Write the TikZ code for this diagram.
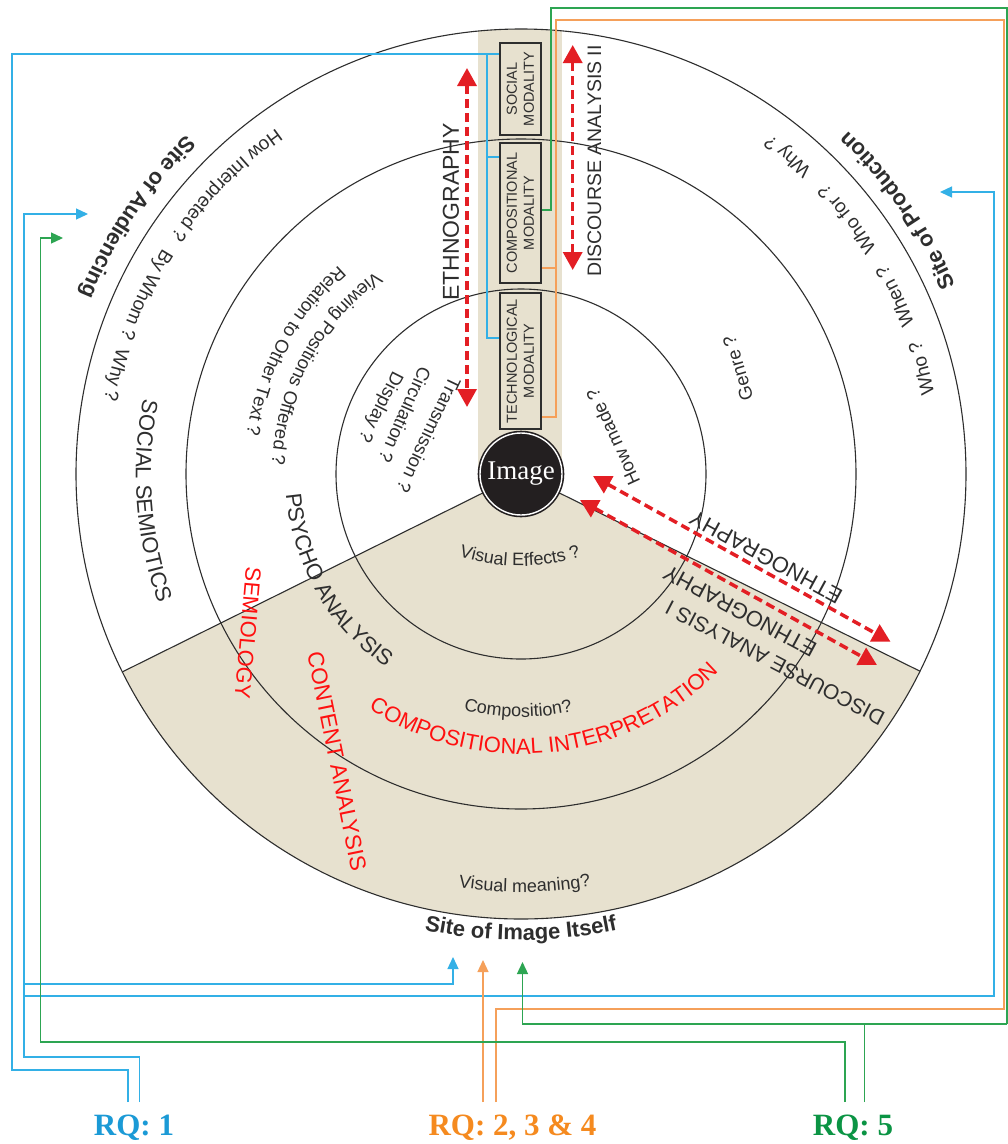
\documentclass[tikz,border=0pt]{standalone}
\usepackage{fontspec}
\setmainfont{Liberation Sans}
\newfontfamily\rqfont{Liberation Serif}
\usetikzlibrary{arrows.meta,calc,decorations.text}
\definecolor{beige}{HTML}{E7E1CF}
\definecolor{ink}{HTML}{2E2E2E}
\definecolor{bline}{HTML}{33B0E6}
\definecolor{blueT}{HTML}{1B9AD6}
\definecolor{oline}{HTML}{F5A05A}
\definecolor{orangeT}{HTML}{F58A1F}
\definecolor{gline}{HTML}{2DA552}
\definecolor{greenT}{HTML}{0B9444}
\definecolor{arrred}{HTML}{E31E24}
\definecolor{lblred}{HTML}{FF1010}
\definecolor{imgblack}{HTML}{231F20}
\newcommand\ArcText[5]{%
  \pgfmathsetmacro\arcA{#3-70}\pgfmathsetmacro\arcB{#3+70}%
  \path[decorate,decoration={text along path,text align=center,text={|#4|#5}}]
    ($(#1)+(\arcA:#2pt)$) arc[start angle=\arcA,end angle=\arcB,radius=#2pt];}
\begin{document}
\begin{tikzpicture}[x=1pt,y=1pt,
  ring/.style={draw=ink,line width=1.1pt},
  modbox/.style={draw=ink,line width=1.3pt,fill=beige,rotate=90,align=center,
     font=\fontsize{14.5}{17}\selectfont,text=ink,inner sep=1pt,minimum height=41pt},
  bl/.style={draw=bline,line width=1.3pt},
  orl/.style={draw=oline,line width=1.3pt},
  grl/.style={draw=gline,line width=1.3pt},
  tipb/.style={-{Triangle[length=12pt,width=11pt]}},
  redarr/.style={draw=arrred,line width=3.5pt,dash pattern=on 9pt off 5pt,
     {Triangle[length=18pt,width=19pt]}-{Triangle[length=18pt,width=19pt]}},
  lbl/.style={text=ink,inner sep=0pt},
  rlbl/.style={text=lblred,inner sep=0pt},
  rqlbl/.style={inner sep=0pt,font=\rqfont\bfseries\fontsize{31}{34}\selectfont}]
\useasboundingbox (0,0) rectangle (1008,-1144);
\fill[white] (0,0) rectangle (1008,-1144);
\coordinate (C) at (521,-474);
% beige areas
\fill[beige] (C) -- ($(C)+(206.4:445pt)$) arc[start angle=206.4,end angle=333.7,radius=445pt] -- cycle;
\begin{scope}
\clip (C) circle[radius=445pt];
\fill[beige] (478,-474) rectangle (562,0);
\end{scope}
% rings and sector lines
\draw[ring] (C) circle[radius=185pt];
\draw[ring] (C) circle[radius=335pt];
\draw[ring] (C) circle[radius=445pt];
\draw[ring] (C) -- ($(C)+(206.4:445pt)$);
\draw[ring] (C) -- ($(C)+(333.7:445pt)$);
% modality boxes
\node[modbox,minimum width=92pt] (soc) at (520.5,-89) {SOCIAL\\MODALITY};
\node[modbox,minimum width=140pt] (comp) at (520.5,-213) {COMPOSITIONAL\\MODALITY};
\node[modbox,minimum width=136pt] (tech) at (520.5,-361) {TECHNOLOGICAL\\MODALITY};
% RQ labels
\node[rqlbl,text=blueT] (rq1) at (134,-1128) {RQ: 1};
\node[rqlbl,text=orangeT] (rq2) at (512.5,-1128) {RQ: 2, 3 \& 4};
\node[rqlbl,text=greenT] (rq5) at (853,-1128) {RQ: 5};
% connector ends
\coordinate (b1s) at (128,-1102);
\coordinate (b2s) at (139.5,-1102);
\coordinate (o1s) at (483,-1102);
\coordinate (o2s) at (496,-1102);
\coordinate (g1s) at (845,-1102);
\coordinate (g2s) at (864.4,-1102);
\coordinate (audB) at (88,-214);
\coordinate (audG) at (63,-238);
\coordinate (prodB) at (940,-192);
\coordinate (imgB) at (453,-957);
\coordinate (imgO) at (483,-960);
\coordinate (imgG) at (522.5,-962);
% blue (RQ 1)
\draw[bl] (b1s) -- (128,-1070) -- (12,-1070) -- (12,-54) -- (soc.north |- 0,-54);
\draw[bl] (487,-54) -- (487,-338) -- (tech.north |- 0,-338);
\draw[bl] (487,-157) -- (comp.north |- 0,-157);
\draw[bl,tipb] (b2s) -- (139.5,-1057) -- (24,-1057) -- (24,-214) -- (audB);
\draw[bl,tipb] (24,-984) -- (453,-984) -- (imgB);
\draw[bl,tipb] (24,-996) -- (994,-996) -- (994,-192) -- (prodB);
% orange (RQ 2,3,4)
\draw[orl,tipb] (o1s) -- (imgO);
\draw[orl] (o2s) -- (496,-1009) -- (1004,-1009) -- (1004,-20) -- (556,-20) -- (556,-417) -- (tech.south |- 0,-417);
\draw[orl] (556,-268) -- (comp.south |- 0,-268);
% green (RQ 5)
\draw[grl,tipb] (g1s) -- (845,-1042) -- (40.5,-1042) -- (40.5,-238) -- (audG);
\draw[grl] (g2s) -- (864.4,-1024);
\draw[grl,tipb] (1007,-1024) -- (522.5,-1024) -- (imgG);
\draw[grl] (1007,-1024) -- (1007,-8) -- (551,-8) -- (551,-210) -- (comp.south |- 0,-210);
% red dashed arrows
\coordinate (e1a) at (467,-68);   \coordinate (e1b) at (467,-407);
\coordinate (e2a) at (572.7,-45); \coordinate (e2b) at (572.7,-270);
\coordinate (e3a) at (593,-476);  \coordinate (e3b) at (890.5,-641.7);
\coordinate (e4a) at (580,-500);  \coordinate (e4b) at (877,-665);
\draw[redarr] (e1a) -- (e1b);
\draw[redarr] (e2a) -- (e2b);
\draw[redarr] (e3a) -- (e3b);
\draw[redarr] (e4a) -- (e4b);
% straight labels
\node[lbl,rotate=90,font=\fontsize{23}{26}\selectfont] (eth1) at (451,-212) {ETHNOGRAPHY};
\node[lbl,rotate=90,font=\fontsize{19.5}{22}\selectfont] (da2) at (594.5,-161) {DISCOURSE ANALYSIS II};
\node[lbl,rotate=151.4,font=\fontsize{22}{24}\selectfont] (eth2) at (766,-557) {ETHNOGRAPHY};
\node[lbl,rotate=151.8,font=\fontsize{22}{24}\selectfont] (eth3) at (740,-611) {ETHNOGRAPHY};
\node[lbl,rotate=152.4,font=\fontsize{21}{24}\selectfont] (da1) at (775,-663) {DISCOURSE ANALYSIS I};
\node[rlbl,rotate=-95,font=\fontsize{22}{24}\selectfont] (semio) at (248,-633) {SEMIOLOGY};
\node[rlbl,rotate=-78.5,font=\fontsize{22.5}{24}\selectfont] (content) at (337,-761) {CONTENT ANALYSIS};
\node[lbl,rotate=106.6,font=\fontsize{18.5}{20}\selectfont] (genre) at (738,-368) {Genre ?};
\node[lbl,rotate=114.7,font=\fontsize{18.5}{20}\selectfont] (howmade) at (613,-437) {How made ?};
\node[lbl,rotate=-115.5,font=\fontsize{18.5}{20}\selectfont] (trans) at (429,-435) {Transmission ?};
\node[lbl,rotate=-114,font=\fontsize{18.5}{20}\selectfont] (circ) at (405,-415) {Circulation ?};
\node[lbl,rotate=-117,font=\fontsize{18.5}{20}\selectfont] (disp) at (380,-407) {Display ?};
% curved labels
\ArcText{C}{476}{146.2}{\bfseries\fontsize{22}{24}\selectfont\color{ink}}{Site of Audiencing}
\ArcText{C}{474}{34.9}{\bfseries\fontsize{22}{24}\selectfont\color{ink}}{Site of Production}
\ArcText{C}{466}{270}{\bfseries\fontsize{22}{24}\selectfont\color{ink}}{Site of Image Itself}
\ArcText{C}{423}{135.6}{\fontsize{19}{20}\selectfont\color{ink}}{How Interpreted ?}
\ArcText{C}{423}{154.5}{\fontsize{19}{20}\selectfont\color{ink}}{By Whom ?}
\ArcText{C}{423}{166.3}{\fontsize{19}{20}\selectfont\color{ink}}{Why ?}
\ArcText{C}{421}{14.8}{\fontsize{19}{20}\selectfont\color{ink}}{Who ?}
\ArcText{C}{421}{25.4}{\fontsize{19}{20}\selectfont\color{ink}}{When ?}
\ArcText{C}{421}{38}{\fontsize{19}{20}\selectfont\color{ink}}{Who for ?}
\ArcText{C}{421}{50}{\fontsize{19}{20}\selectfont\color{ink}}{Why ?}
\ArcText{C}{249}{151.7}{\fontsize{18.5}{20}\selectfont\color{ink}}{Viewing Positions Offered ?}
\ArcText{C}{277}{151.5}{\fontsize{18.5}{20}\selectfont\color{ink}}{Relation to Other Text ?}
\ArcText{C}{385}{184.2}{\fontsize{22}{24}\selectfont\color{ink}}{SOCIAL SEMIOTICS}
\ArcText{C}{236}{210}{\fontsize{22}{24}\selectfont\color{ink}}{PSYCHO ANALYSIS}
\ArcText{C}{280}{276}{\fontsize{22}{24}\selectfont\color{lblred}}{COMPOSITIONAL INTERPRETATION}
\ArcText{C}{243}{269.3}{\fontsize{18}{20}\selectfont\color{ink}}{Composition?}
\ArcText{C}{418}{270.5}{\fontsize{18}{20}\selectfont\color{ink}}{Visual meaning?}
\coordinate (VE) at (520,-368);
\ArcText{VE}{198}{270}{\fontsize{18}{20}\selectfont\color{ink}}{Visual Effects ?}
% image node
\node[circle,fill=imgblack,draw=imgblack,double=white,double distance=1.4pt,line width=1.6pt,
  minimum size=82pt,inner sep=0pt,text=white,font=\rqfont\fontsize{27}{29}\selectfont] (img) at (C) {Image};
\end{tikzpicture}
\end{document}
